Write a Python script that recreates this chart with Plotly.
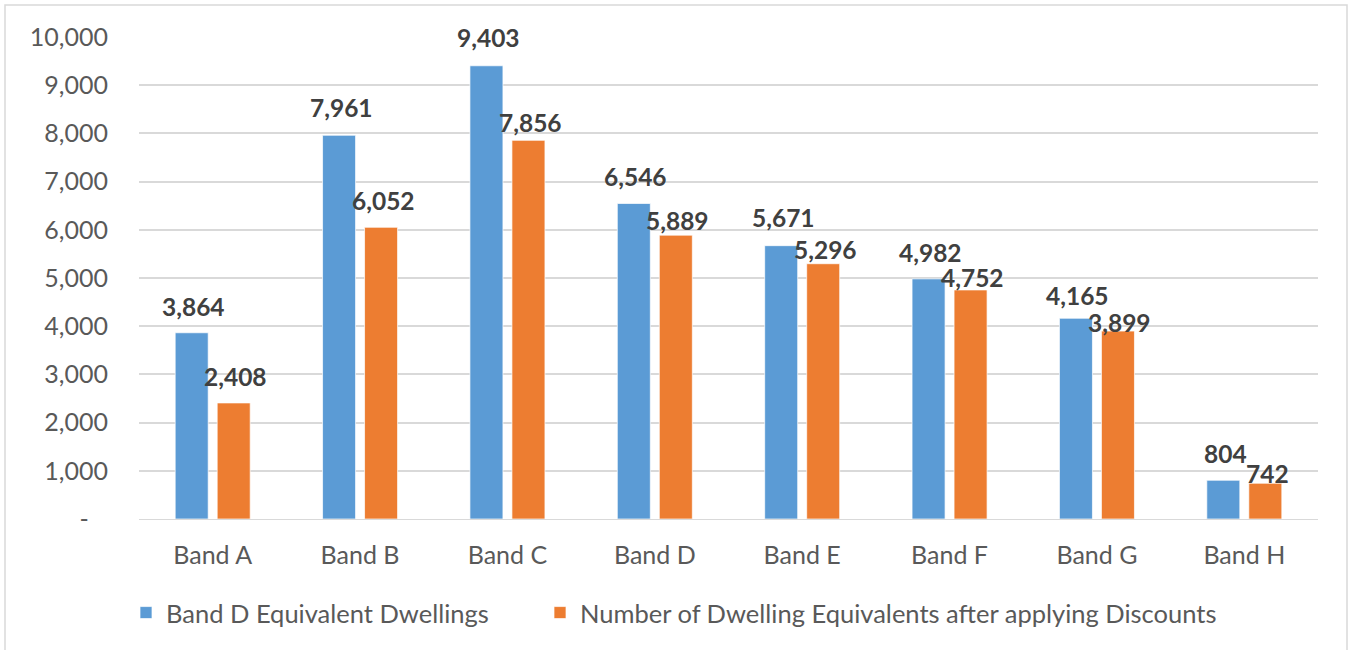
import plotly.graph_objects as go

categories = ["Band A", "Band B", "Band C", "Band D", "Band E", "Band F", "Band G", "Band H"]
band_d_equiv = [3864, 7961, 9403, 6546, 5671, 4982, 4165, 804]
after_discounts = [2408, 6052, 7856, 5889, 5296, 4752, 3899, 742]
series_names = ["Band D Equivalent Dwellings",
                "Number of Dwelling Equivalents after applying Discounts"]
y_tickvals = [0, 1000, 2000, 3000, 4000, 5000, 6000, 7000, 8000, 9000, 10000]
y_ticktext = ["-\u00a0\u00a0\u00a0", "1,000", "2,000", "3,000", "4,000", "5,000",
              "6,000", "7,000", "8,000", "9,000", "10,000"]

BLUE = "#5B9BD5"
ORANGE = "#ED7D31"
TXT = "#595959"
LBL = "#404040"
GRID = "#D9D9D9"

# label vertical offsets (px above bar top), style only
blue_yshift = [26, 28, 28, 27, 28, 26, 23, 27]
orange_yshift = [26, 27, 18, 15, 14, 12, 9, 10]

fig = go.Figure()
fig.add_trace(go.Bar(x=categories, y=band_d_equiv, name=series_names[0], legend="legend",
                     marker=dict(color=BLUE, line=dict(color="rgba(255,255,255,0.7)", width=1))))
fig.add_trace(go.Bar(x=categories, y=after_discounts, name=series_names[1], legend="legend2",
                     marker=dict(color=ORANGE, line=dict(color="rgba(255,255,255,0.7)", width=1))))

LBL_FONT = dict(family="Lato", size=24.5, color=LBL, weight="bold")
annotations = []
for i, c in enumerate(categories):
    annotations.append(dict(x=c, y=band_d_equiv[i], xref="x", yref="y",
                            text=f"{band_d_equiv[i]:,}", showarrow=False,
                            xshift=-19, yshift=blue_yshift[i], yanchor="middle",
                            font=LBL_FONT))
    annotations.append(dict(x=c, y=after_discounts[i], xref="x", yref="y",
                            text=f"{after_discounts[i]:,}", showarrow=False,
                            xshift=23, yshift=orange_yshift[i], yanchor="middle",
                            font=LBL_FONT))

L, R, T, B = 139, 33, 37, 131
W, H = 1351, 650
pw, ph = W - L - R, H - T - B
leg_y = -(613 - (T + ph)) / ph
LEG_FONT = dict(family="Lato", size=25.5, color=TXT)

fig.update_layout(
    width=W, height=H,
    margin=dict(l=L, r=R, t=T, b=B),
    paper_bgcolor="white", plot_bgcolor="white",
    barmode="group", bargap=0.43, bargroupgap=0.214,
    font=dict(family="Lato", size=25, color=TXT),
    annotations=annotations,
    showlegend=True,
    legend=dict(orientation="h", x=(126 - L) / pw, xanchor="left",
                y=leg_y, yanchor="middle", font=LEG_FONT,
                itemclick=False, itemdoubleclick=False),
    legend2=dict(orientation="h", x=(540 - L) / pw, xanchor="left",
                 y=leg_y, yanchor="middle", font=LEG_FONT,
                 itemclick=False, itemdoubleclick=False),
    shapes=[dict(type="rect", xref="paper", yref="paper",
                 x0=(5 - L) / pw, x1=(1347 - L) / pw,
                 y0=-(660 - (T + ph)) / ph, y1=((T + ph) - 5) / ph,
                 line=dict(color=GRID, width=1.5), fillcolor="rgba(0,0,0,0)", layer="below")],
)
fig.update_xaxes(showgrid=False, showline=True, linecolor=GRID, linewidth=1,
                 ticks="", tickfont=dict(family="Lato", size=25, color=TXT),
                 ticklabelstandoff=14, fixedrange=True)
fig.update_yaxes(range=[0, 10000], tickvals=y_tickvals, ticktext=y_ticktext,
                 showgrid=True, gridcolor=GRID, gridwidth=1.5, zeroline=False,
                 showline=False, ticks="", tickfont=dict(family="Lato", size=25, color=TXT),
                 ticklabelstandoff=30, fixedrange=True)

fig.write_html("out.html", config={"displayModeBar": False})
